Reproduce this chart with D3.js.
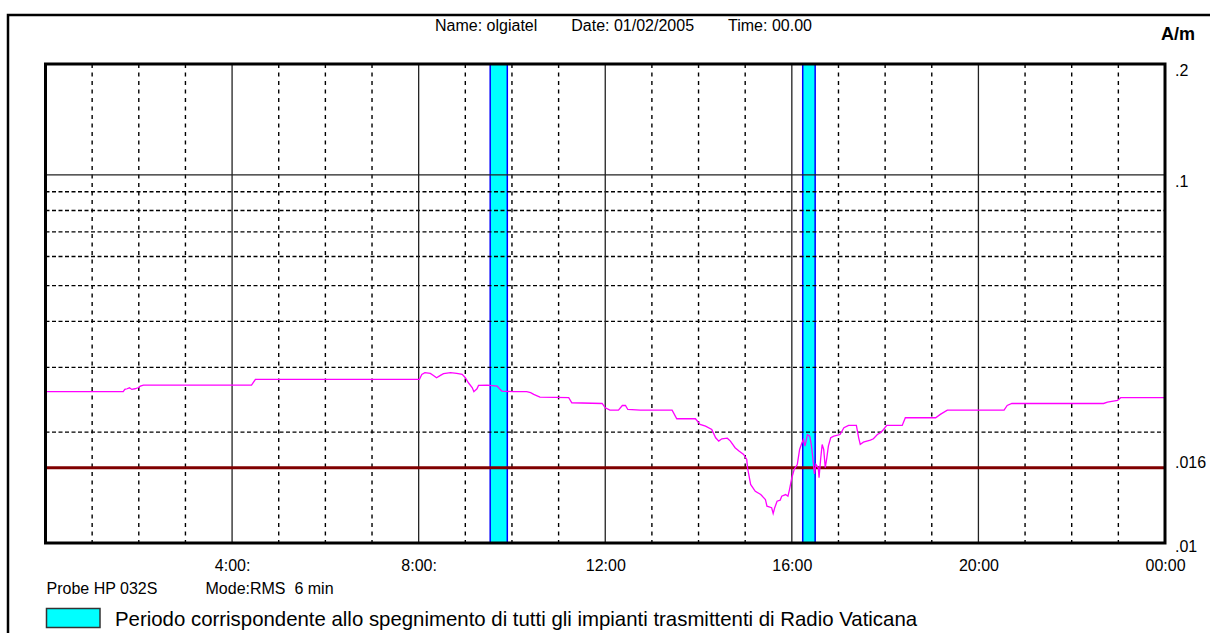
<!DOCTYPE html>
<html>
<head>
<meta charset="utf-8">
<script src="https://cdn.jsdelivr.net/npm/d3@7/dist/d3.min.js"></script>
<style>
  body { margin: 0; background: #ffffff; }
  svg text { font-family: Arial, "Liberation Sans", sans-serif; fill: #000000; }
</style>
</head>
<body>
<svg id="chart" width="1210" height="633"></svg>
<script>
// header / footer texts
var headerItems = ["Name: olgiatel", "Date: 01/02/2005", "Time: 00.00"];
var unitLabel = "A/m";
var probeLabel = "Probe HP 032S";
var modeLabel = "Mode:RMS  6 min";
var legendLabel = "Periodo corrispondente allo spegnimento di tutti gli impianti trasmittenti di Radio Vaticana";

// axes
var yTickValues = [0.2, 0.1, 0.016, 0.01];
var yMinorGrid = [0.09, 0.08, 0.07, 0.06, 0.05, 0.04, 0.03, 0.02];
var yMajorGrid = [0.1];
var xTickHours = [4, 8, 12, 16, 20, 24];
var xTickLabels = ["4:00:", "8:00:", "12:00", "16:00", "20:00", "00:00"];
var xMajorHours = [4, 8, 12, 16, 20];
var xMinorHours = [1, 2, 3, 5, 6, 7, 9, 10, 11, 13, 14, 15, 17, 18, 19, 21, 22, 23];

// limit line (A/m)
var limitValue = 0.016;

// transmitters switched off (minutes after midnight)
var offStart = [572, 974];
var offEnd = [594, 990];

// measured field, 6 min RMS (minutes after midnight, A/m)
var sampleMinutes = [
  0, 100, 102, 105, 108, 111, 115, 119, 122, 126, 265, 270, 481, 484, 488, 495,
  499, 503, 508, 512, 521, 529, 536, 540, 544, 549, 551, 555, 557, 568, 581, 584,
  587, 602, 619, 624, 628, 636, 673, 677, 716, 720, 726, 737, 742, 746, 749, 765,
  806, 812, 836, 842, 849, 857, 862, 866, 870, 877, 881, 887, 892, 898, 902, 903,
  907, 913, 920, 926, 928, 934, 936, 938, 941, 945, 947, 952, 955, 957, 960, 963,
  967, 970, 973, 975, 977, 980, 983, 985, 987, 989, 991, 994, 995, 997, 999, 1001,
  1003, 1005, 1007, 1010, 1014, 1022, 1027, 1033, 1043, 1046, 1048, 1052, 1061, 1065, 1070, 1074,
  1078, 1082, 1102, 1106, 1145, 1151, 1160, 1233, 1237, 1243, 1361, 1366, 1379, 1383, 1440
];
var fieldValues = [
  .02576, .02576, .02613, .02624, .02640, .02613, .02624, .02640, .02667, .02684, .02684, .02781, .02781, .02870, .02901, .02888,
  .02852, .02811, .02852, .02883, .02901, .02888, .02870, .02811, .02724, .02640, .02576, .02624, .02679, .02684, .02667, .02624,
  .02586, .02576, .02576, .02560, .02533, .02490, .02481, .02404, .02393, .02329, .02295, .02295, .02363, .02363, .02305, .02295,
  .02295, .02175, .02175, .02099, .02077, .02034, .01931, .01891, .01919, .01926, .01891, .01815, .01777, .01740, .01686, .01601,
  .01442, .01382, .01354, .01313, .01259, .01247, .01203, .01247, .01299, .01307, .01340, .01354, .01340, .01397, .01504, .01584,
  .01634, .01795, .01872, .01911, .01832, .01971, .01950, .01852, .01704, .01540, .01634, .01601, .01504, .01686, .01852, .01795,
  .01601, .01704, .01832, .01931, .01950, .01971, .02056, .02086, .02086, .01931, .01852, .01879, .01903, .01919, .01971, .01993,
  .02034, .02086, .02086, .02189, .02189, .02235, .02295, .02295, .02363, .02393, .02393, .02413, .02439, .02481, .02481
];

var plot = {left: 45.5, right: 1165, top: 64, bottom: 543};

var svg = d3.select("#chart");

var x = d3.scaleLinear().domain([0, 1440]).range([plot.left, plot.right]);
var y = d3.scaleLog().domain([0.01, 0.2]).range([plot.bottom, plot.top]);

// outer frame, runs off the page on the right and bottom
svg.append("rect")
  .attr("x", 8).attr("y", 15)
  .attr("width", 1400).attr("height", 800)
  .attr("fill", "none")
  .attr("stroke", "#000").attr("stroke-width", 2.5);

// switch-off periods
svg.append("g").selectAll("rect")
  .data(d3.zip(offStart, offEnd))
  .join("rect")
  .attr("x", function(d) { return x(d[0]); })
  .attr("y", plot.top)
  .attr("width", function(d) { return x(d[1]) - x(d[0]); })
  .attr("height", plot.bottom - plot.top)
  .attr("fill", "#00ffff")
  .attr("stroke", "#0000ff").attr("stroke-width", 1.5);

var grid = svg.append("g");

grid.selectAll("line.vminor")
  .data(xMinorHours)
  .join("line")
  .attr("class", "vminor")
  .attr("x1", function(h) { return x(h * 60); })
  .attr("x2", function(h) { return x(h * 60); })
  .attr("y1", plot.top).attr("y2", plot.bottom)
  .attr("stroke", "#000").attr("stroke-width", 1.4)
  .attr("stroke-dasharray", "4,4.5");

grid.selectAll("line.hminor")
  .data(yMinorGrid)
  .join("line")
  .attr("class", "hminor")
  .attr("x1", plot.left).attr("x2", plot.right)
  .attr("y1", function(v) { return y(v); })
  .attr("y2", function(v) { return y(v); })
  .attr("stroke", "#000").attr("stroke-width", 1.4)
  .attr("stroke-dasharray", "4,2.5");

grid.selectAll("line.vmajor")
  .data(xMajorHours)
  .join("line")
  .attr("class", "vmajor")
  .attr("x1", function(h) { return x(h * 60); })
  .attr("x2", function(h) { return x(h * 60); })
  .attr("y1", plot.top).attr("y2", plot.bottom)
  .attr("stroke", "#222").attr("stroke-width", 1.3);

grid.selectAll("line.hmajor")
  .data(yMajorGrid)
  .join("line")
  .attr("class", "hmajor")
  .attr("x1", plot.left).attr("x2", plot.right)
  .attr("y1", function(v) { return y(v); })
  .attr("y2", function(v) { return y(v); })
  .attr("stroke", "#222").attr("stroke-width", 1.3);

// limit
svg.append("line")
  .attr("x1", plot.left).attr("x2", plot.right)
  .attr("y1", y(limitValue)).attr("y2", y(limitValue))
  .attr("stroke", "#800000").attr("stroke-width", 3);

// measured field
var line = d3.line()
  .x(function(d) { return x(d[0]); })
  .y(function(d) { return y(d[1]); });

svg.append("path")
  .datum(d3.zip(sampleMinutes, fieldValues))
  .attr("d", line)
  .attr("fill", "none")
  .attr("stroke", "#ff00ff").attr("stroke-width", 1.3);

// plot border
svg.append("rect")
  .attr("x", plot.left).attr("y", plot.top)
  .attr("width", plot.right - plot.left)
  .attr("height", plot.bottom - plot.top)
  .attr("fill", "none")
  .attr("stroke", "#000").attr("stroke-width", 3);

// x axis labels
var xAxis = d3.axisBottom(x)
  .tickValues(xTickHours.map(function(h) { return h * 60; }))
  .tickFormat(function(d, i) { return xTickLabels[i]; })
  .tickSize(0).tickPadding(0);

var gx = svg.append("g")
  .attr("transform", "translate(0," + 560 + ")")
  .call(xAxis);
gx.select(".domain").remove();
gx.selectAll("text")
  .attr("font-size", 16)
  .attr("font-family", null)
  .attr("fill", "#000");

// y axis labels
var yAxis = d3.axisRight(y)
  .tickValues(yTickValues)
  .tickFormat(function(d) { return String(d).replace(/^0/, ""); })
  .tickSize(0).tickPadding(0);

var gy = svg.append("g")
  .attr("transform", "translate(" + 1175 + ",0)")
  .call(yAxis);
gy.select(".domain").remove();
gy.selectAll("text")
  .attr("font-size", 16)
  .attr("font-family", null)
  .attr("fill", "#000")
  .attr("dy", function(d) {
    if (d === limitValue) return "0em";
    if (d === y.domain()[0]) return "0.55em";
    return "0.71em";
  });

// header
var hx = 435;
headerItems.forEach(function(s) {
  var t = svg.append("text")
    .attr("x", hx).attr("y", 31)
    .attr("font-size", 16)
    .text(s);
  hx += t.node().getComputedTextLength() + 34;
});

svg.append("text")
  .attr("x", 1161).attr("y", 40)
  .attr("font-size", 18).attr("font-weight", "bold")
  .text(unitLabel);

// footer
svg.append("text")
  .attr("x", 46.5).attr("y", 594)
  .attr("font-size", 16)
  .text(probeLabel);

svg.append("text")
  .attr("x", 205.5).attr("y", 594)
  .attr("font-size", 16)
  .style("white-space", "pre")
  .text(modeLabel);

svg.append("rect")
  .attr("x", 46.5).attr("y", 608.5)
  .attr("width", 53.5).attr("height", 19)
  .attr("fill", "#00ffff")
  .attr("stroke", "#333").attr("stroke-width", 1.5);

svg.append("text")
  .attr("x", 115).attr("y", 626)
  .attr("font-size", 20.4)
  .text(legendLabel);
</script>
</body>
</html>
